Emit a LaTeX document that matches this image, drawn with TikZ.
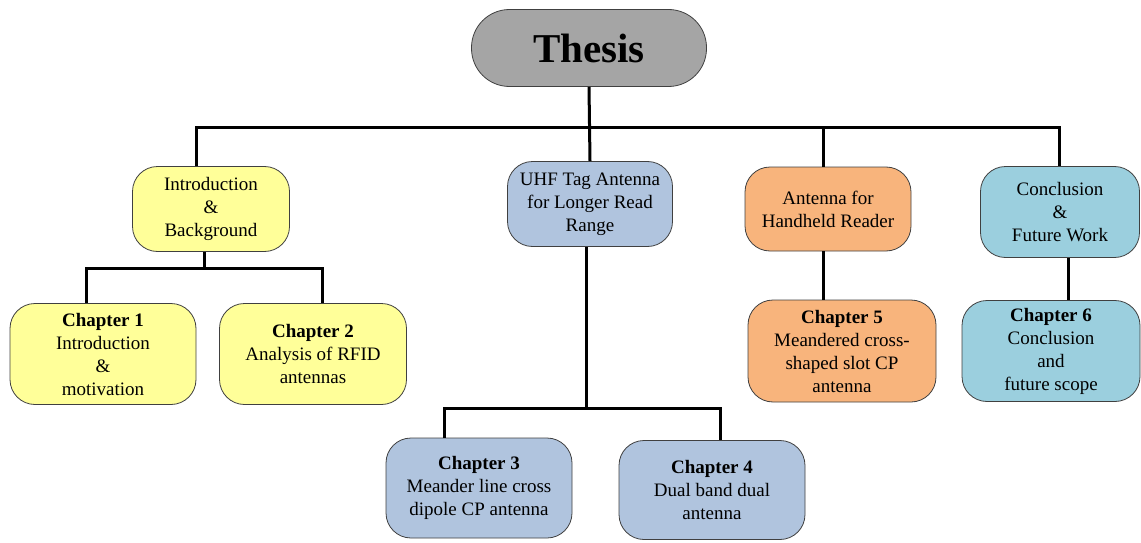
\documentclass[tikz,border=0pt]{standalone}
\usepackage{fontspec}
\setmainfont{Liberation Serif}
\definecolor{cyel}{HTML}{FFFF99}
\definecolor{cblu}{HTML}{B0C4DE}
\definecolor{cora}{HTML}{F8B47C}
\definecolor{ctea}{HTML}{9BCFDE}
\definecolor{cgry}{HTML}{A5A5A5}
\definecolor{cbrd}{HTML}{404040}
\tikzset{
  box/.style={draw=cbrd, line width=0.8pt, rounded corners=25pt, align=center,
    inner sep=0pt, font=\fontsize{19}{23}\selectfont},
  conn/.style={draw=black, line width=3pt},
}
\begin{document}
\begin{tikzpicture}[x=1pt,y=-1pt]
\useasboundingbox (0,0) rectangle (1141,543);
% nodes
\node[box, fill=cgry, rounded corners=38pt, minimum width=235pt, minimum height=77pt,
  font=\fontsize{41}{48}\selectfont\bfseries] (thesis) at (589,48) {Thesis};
\node[box, fill=cyel, minimum width=157pt, minimum height=85pt] (intro) at (211,209)
  {Introduction\\\&\\Background};
\node[box, fill=cblu, minimum width=165pt, minimum height=85pt] (uhf) at (590,204)
  {UHF Tag Antenna\\for Longer Read\\Range};
\node[box, fill=cora, minimum width=166pt, minimum height=84pt] (hand) at (828,209)
  {Antenna for\\Handheld Reader};
\node[box, fill=ctea, minimum width=159pt, minimum height=91pt] (concl) at (1060,212)
  {Conclusion\\\&\\Future Work};
\node[box, fill=cyel, minimum width=186pt, minimum height=101pt] (ch1) at (103,354)
  {\textbf{Chapter 1}\\Introduction\\\&\\motivation};
\node[box, fill=cyel, minimum width=187pt, minimum height=101pt] (ch2) at (313,354)
  {\textbf{Chapter 2}\\Analysis of RFID\\antennas};
\node[box, fill=cblu, minimum width=186pt, minimum height=100pt] (ch3) at (479,488)
  {\textbf{Chapter 3}\\Meander line cross\\dipole CP antenna};
\node[box, fill=cblu, minimum width=186pt, minimum height=99pt] (ch4) at (712,490)
  {\textbf{Chapter 4}\\Dual band dual\\antenna};
\node[box, fill=cora, minimum width=188pt, minimum height=102pt] (ch5) at (842,351)
  {\textbf{Chapter 5}\\Meandered cross-\\shaped slot CP\\antenna};
\node[box, fill=ctea, minimum width=178pt, minimum height=101pt] (ch6) at (1051,351)
  {\textbf{Chapter 6}\\Conclusion\\and\\future scope};
% connectors
\coordinate (bus) at (589,127);
\draw[conn] (thesis.south) -- (uhf.north);
\draw[conn] ([xshift=-15pt]intro.north) |- (bus) -| ([xshift=-1pt]concl.north);
\draw[conn] ([xshift=-5pt]hand.north) -- ([xshift=-5pt]hand.north |- bus);
\coordinate (ib) at (204,268);
\draw[conn] ([xshift=-7pt]intro.south) -- (ib);
\draw[conn] ([xshift=-17pt]ch1.north) |- (ib) -| ([xshift=9pt]ch2.north);
\coordinate (ub) at (586,408);
\draw[conn] ([xshift=-4pt]uhf.south) -- (ub);
\draw[conn] ([xshift=-35pt]ch3.north) |- (ub) -| ([xshift=8pt]ch4.north);
\draw[conn] ([xshift=-5pt]hand.south) -- ([xshift=-19pt]ch5.north);
\draw[conn] ([xshift=8pt]concl.south) -- ([xshift=17pt]ch6.north);
\end{tikzpicture}
\end{document}
